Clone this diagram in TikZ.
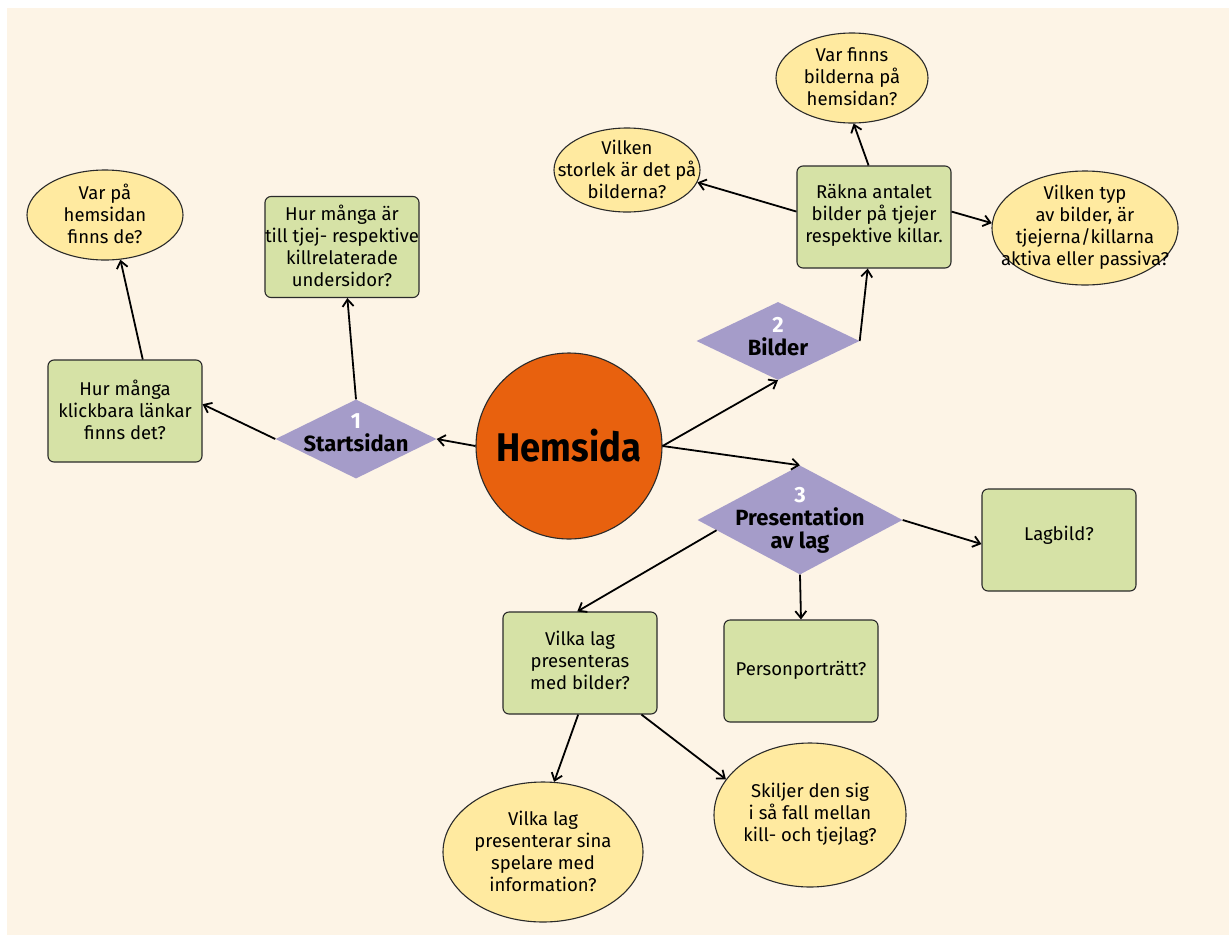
\documentclass[tikz,border=0pt]{standalone}
\usepackage{fontspec}
\setmainfont{Fira Sans}
\newfontfamily\hemfont[FakeStretch=0.91]{Fira Sans}
\usetikzlibrary{shapes.geometric,arrows.meta}
\definecolor{bgc}{HTML}{FDF4E6}
\definecolor{boxg}{HTML}{D6E2A6}
\definecolor{elly}{HTML}{FFEAA0}
\definecolor{dia}{HTML}{A59CC9}
\definecolor{orng}{HTML}{E8610E}
\definecolor{edgec}{HTML}{2A2A2A}
\tikzset{
  gbox/.style={draw=edgec, line width=1.1pt, fill=boxg, rounded corners=6pt, minimum width=154pt, minimum height=102pt, inner sep=0pt},
  yell/.style={draw=edgec, line width=1.1pt, fill=elly, ellipse, inner sep=0pt},
  dmd/.style={draw=none, fill=dia, diamond, inner sep=0pt},
  txt/.style={align=center, font=\fontsize{18.5}{22}\selectfont, inner sep=0pt},
  dtxt/.style={align=center, font=\fontsize{22}{23}\selectfont\bfseries, inner sep=0pt},
  conn/.style={line width=1.8pt, -{Straight Barb[length=7pt,width=11pt]}}
}
\begin{document}
\begin{tikzpicture}[x=1pt,y=-1pt]
\useasboundingbox (0,0) rectangle (1229,935);
\fill[bgc] (7,8) rectangle (1229,935);

% central
\node[circle, draw=edgec, line width=1.1pt, fill=orng, minimum size=186pt, inner sep=0pt] (hem) at (569,446) {};
\node[font=\fontsize{40}{44}\selectfont\hemfont\bfseries, inner sep=0pt] (hemt) at (569,446) {Hemsida};

% branch 1
\node[dmd, minimum width=161pt, minimum height=79pt] (start) at (356,439) {};
\node[dtxt] (startt) at (356,433) {\textcolor{white}{1}\\Startsidan};
\node[gbox] (klick) at (125,411) {};
\node[txt] (klickt) at (125,410) {Hur många\\klickbara länkar\\finns det?};
\node[gbox, minimum height=101pt] (hur) at (342,247) {};
\node[txt] (hurt) at (342,246) {Hur många är\\till tjej- respektive\\killrelaterade\\undersidor?};
\node[yell, minimum width=156pt, minimum height=90pt] (varpa) at (105,215) {};
\node[txt] (varpat) at (105,214) {Var på\\hemsidan\\finns de?};

% branch 2
\node[dmd, minimum width=163pt, minimum height=78pt] (bild) at (778,341) {};
\node[dtxt] (bildt) at (778,337) {\textcolor{white}{2}\\Bilder};
\node[gbox] (rakna) at (874,217) {};
\node[txt] (raknat) at (874,215) {Räkna antalet\\bilder på tjejer\\respektive killar.};
\node[yell, minimum width=152pt, minimum height=90pt] (varfinns) at (852,78) {};
\node[txt] (varfinnst) at (852,77) {Var finns\\bilderna på\\hemsidan?};
\node[yell, minimum width=146pt, minimum height=84pt] (storlek) at (627,170) {};
\node[txt] (storlekt) at (627,169) {Vilken\\storlek är det på\\bilderna?};
\node[yell, minimum width=186pt, minimum height=114pt] (typ) at (1085,228) {};
\node[txt] (typt) at (1085,227) {Vilken typ\\av bilder, är\\tjejerna/killarna\\aktiva eller passiva?};

% branch 3
\node[dmd, minimum width=205pt, minimum height=109pt] (pres) at (800,520) {};
\node[dtxt] (prest) at (800,520) {\textcolor{white}{3}\\Presentation\\av lag};
\node[gbox] (lag) at (1059,540) {};
\node[txt] (lagt) at (1059,535) {Lagbild?};
\node[gbox] (pers) at (801,671) {};
\node[txt] (perst) at (801,670) {Personporträtt?};
\node[gbox] (vlag) at (580,663) {};
\node[txt] (vlagt) at (580,660) {Vilka lag\\presenteras\\med bilder?};
\node[yell, minimum width=200pt, minimum height=140pt] (vlagp) at (543,852) {};
\node[txt] (vlagpt) at (543,851) {Vilka lag\\presenterar sina\\spelare med\\information?};
\node[yell, minimum width=192pt, minimum height=144pt] (skil) at (810,815) {};
\node[txt] (skilt) at (810,814) {Skiljer den sig\\i så fall mellan\\kill- och tjejlag?};

% connectors
\draw[conn] (hem.west) -- (start.east);
\draw[conn] (start.west) -- (klick.5);
\draw[conn] (start.north) -- (hur.-84);
\draw[conn] (klick.71) -- (varpa.-71);
\draw[conn] (hem.east) -- (bild.south);
\draw[conn] (bild.east) -- (rakna.-97);
\draw[conn] (rakna.96) -- (varfinns.-88);
\draw[conn] (rakna.176) -- (storlek.-10);
\draw[conn] (rakna.4) -- (typ.177);
\draw[conn] (hem.east) -- (pres.north);
\draw[conn] (pres.east) -- (lag.183);
\draw[conn] (pres.south) -- (pers.north);
\draw[conn] (pres.187) -- (vlag.93);
\draw[conn] (vlag.-92) -- (vlagp.81);
\draw[conn] (vlag.-40) -- (skil.157);
\end{tikzpicture}
\end{document}
